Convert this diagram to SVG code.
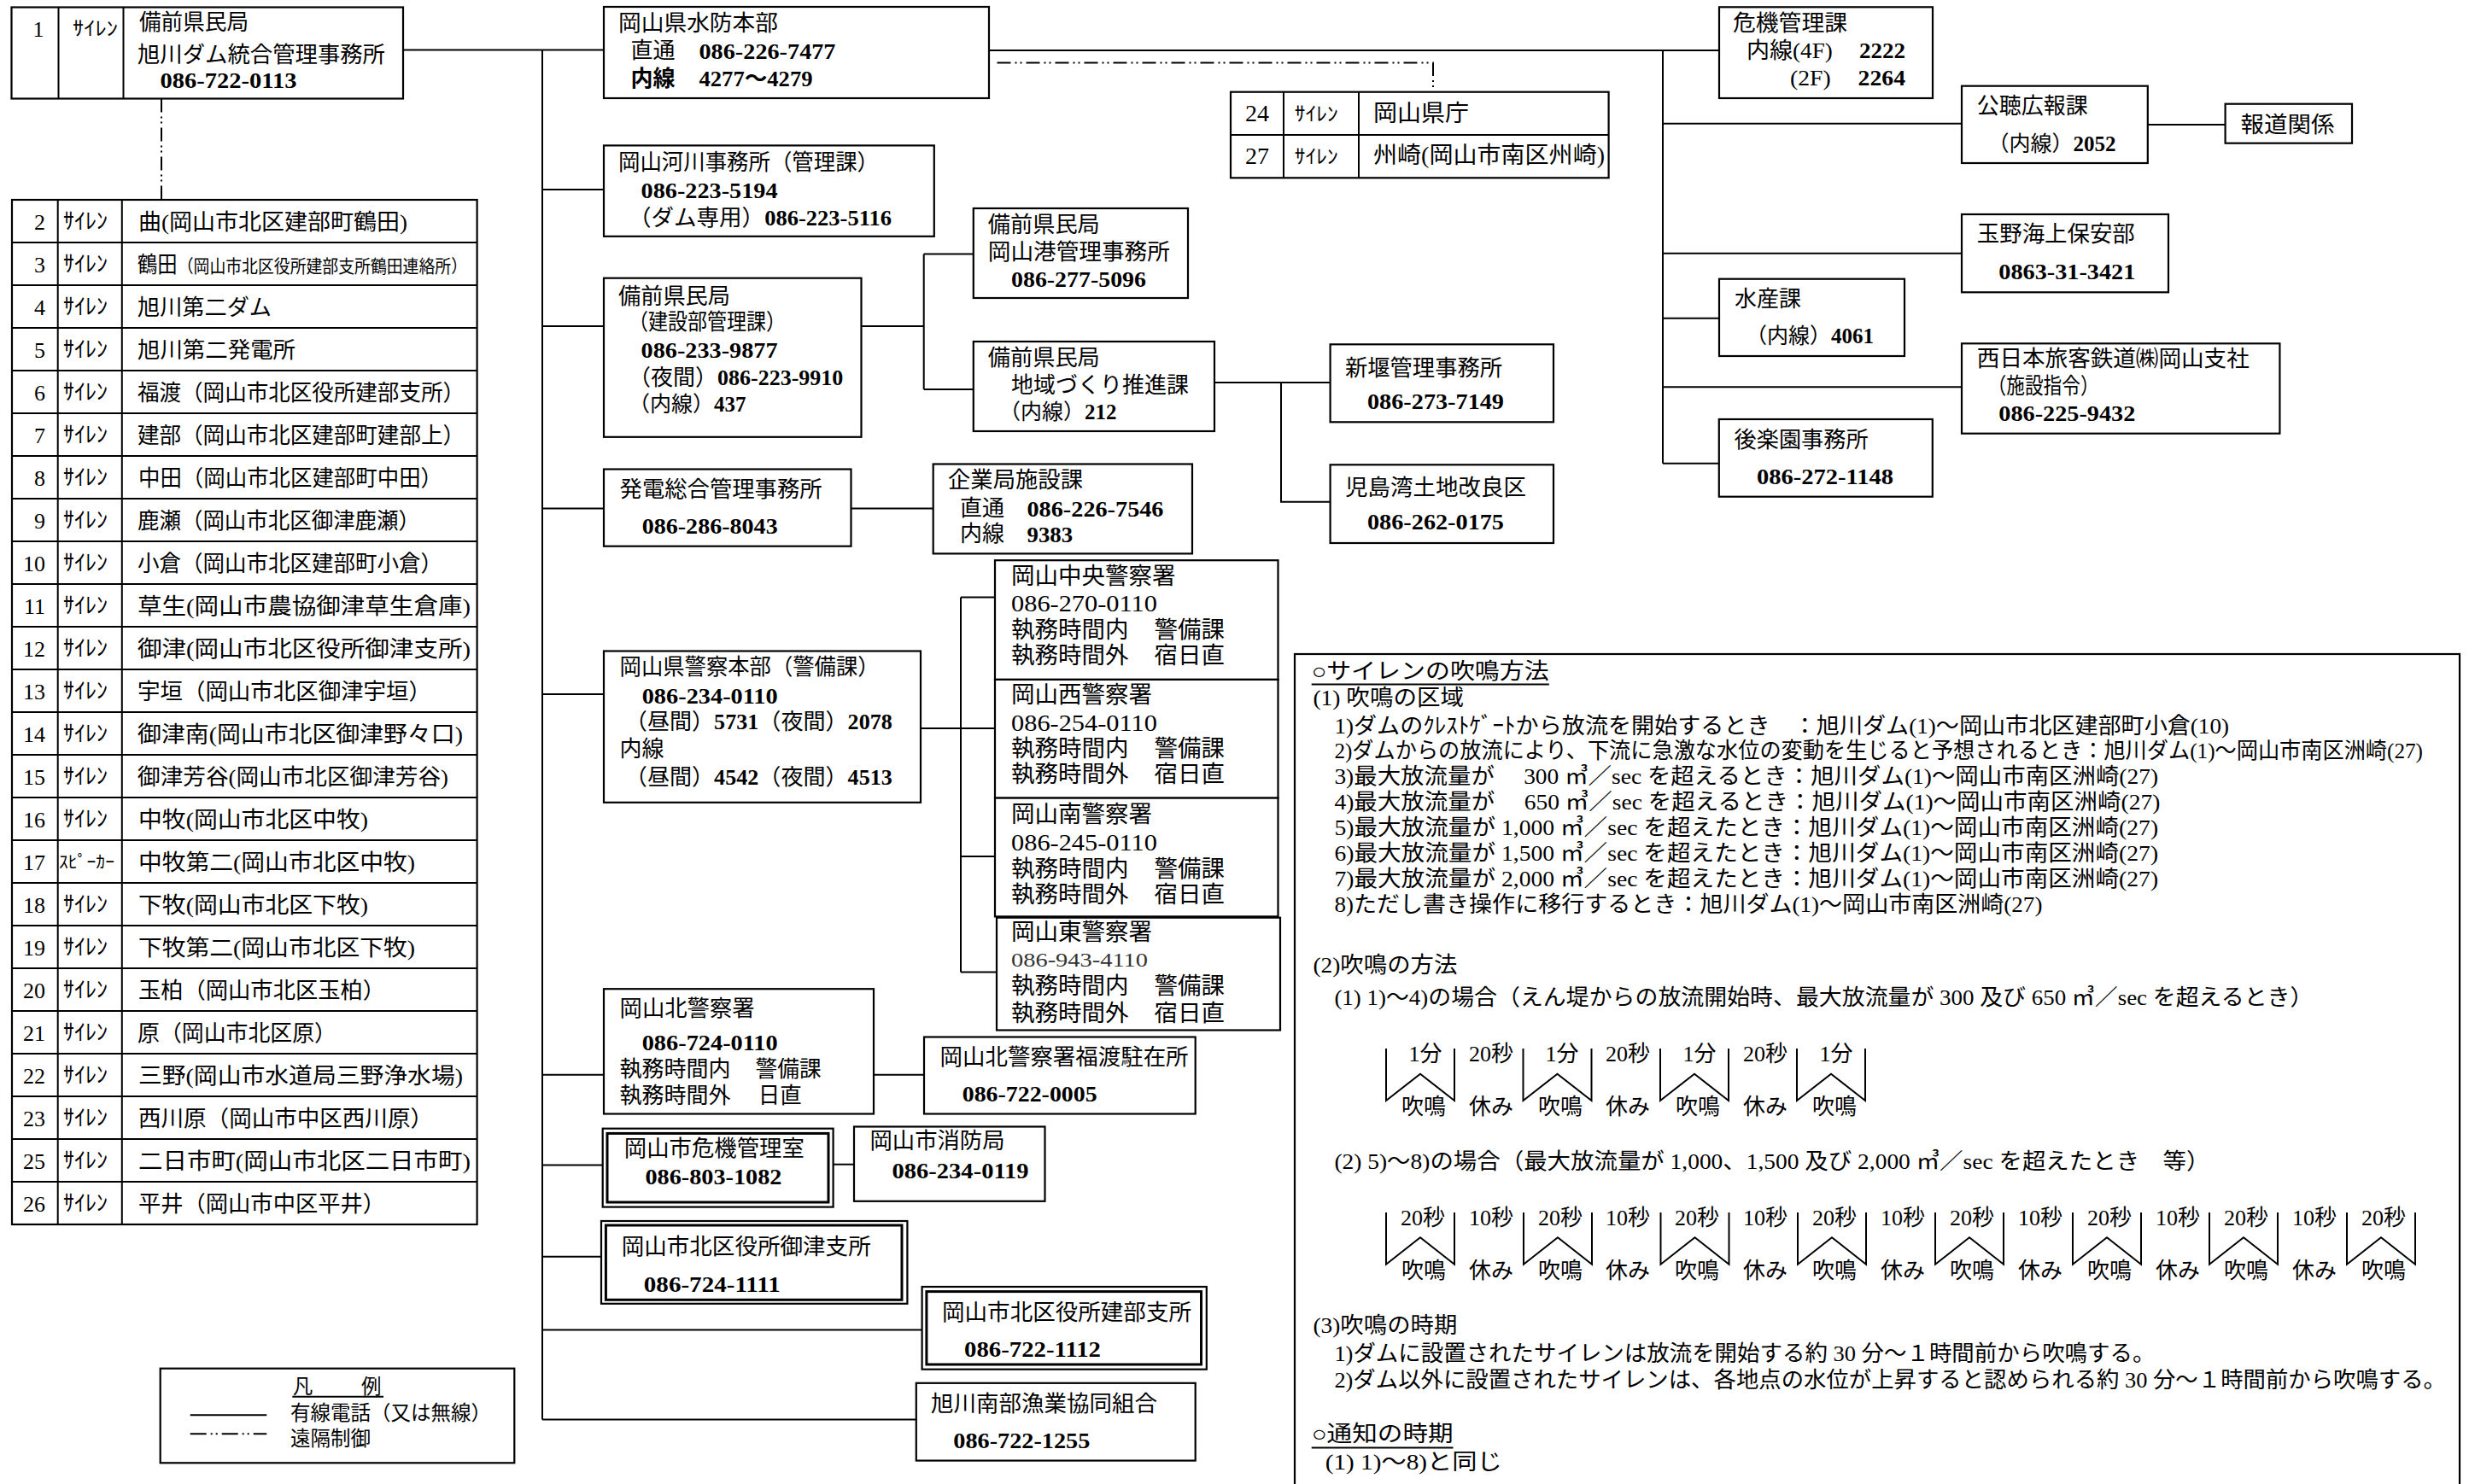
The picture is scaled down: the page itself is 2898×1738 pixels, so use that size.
<svg xmlns="http://www.w3.org/2000/svg" width="2898" height="1738" viewBox="0 0 2898 1738">
<style>
text{font-family:"Liberation Serif","Noto Sans CJK JP",serif;font-size:26px;fill:#000}
.bx{fill:#fff;stroke:#000;stroke-width:2.2}
.ln{stroke:#000;stroke-width:2;fill:none}
.dd{stroke-dasharray:16 5 2 4 2 5}
.p{font-weight:bold}
.k{font-size:23px}
.n{font-size:26px}
.m{font-size:24px}
.pc{font-size:27.5px}
.pn{font-size:28px}
.pl{font-size:24px;fill:#333}
.lg{font-size:23.5px}
</style>
<rect x="0" y="0" width="2898" height="1738" fill="#fff"/>

<g id="connectors">
<path class="ln" d="M472 58.5H707"/>
<path class="ln" d="M635 58.5V1662.6"/>
<path class="ln" d="M635 222H707M635 382H707M635 595.5H707M635 813H707M635 1258.7H707M635 1364.5H705.7M635 1471.7H704M635 1557.6H1079.6M635 1662.6H1072.8"/>
<path class="ln" d="M1008.5 382H1081.7M1081.7 297.5V456M1081.7 297.5H1139.8M1081.7 456H1139.8"/>
<path class="ln" d="M1422 448H1557.6M1500 448V587.7H1557.6"/>
<path class="ln" d="M996.5 595.5H1092.7"/>
<path class="ln" d="M1078 853H1125M1125 699.6V1138.4M1125 699.6H1165M1125 853H1165M1125 1003H1165M1125 1138.4H1167"/>
<path class="ln" d="M1023 1258.7H1082"/>
<path class="ln" d="M975.6 1363.7H1000"/>
<path class="ln" d="M1158 59H2013M1947 59V542.7M1947 144.7H2297M1947 296.7H2297M1947 372.7H2013M1947 453.3H2297M1947 542.7H2013"/>
<path class="ln" d="M2514.8 146H2605.6"/>
<path class="ln dd" d="M189 115.5V234"/>
<path class="ln dd" d="M1167.5 73.5H1678V107.7"/>
</g>

<g id="n1">
<rect class="bx" x="13.5" y="8.5" width="458.5" height="107"/>
<path class="ln" d="M68.5 8.5V115.5M144.5 8.5V115.5"/>
<text x="45" y="43" text-anchor="middle" class="n">1</text>
<text x="85" y="41" class="k" textLength="53" lengthAdjust="spacingAndGlyphs">ｻｲﾚﾝ</text>
<text x="163" y="35" textLength="128" lengthAdjust="spacingAndGlyphs">備前県民局</text>
<text x="161" y="73" textLength="290" lengthAdjust="spacingAndGlyphs">旭川ダム統合管理事務所</text>
<text x="187.5" y="103" class="p" textLength="160" lengthAdjust="spacingAndGlyphs">086-722-0113</text>
</g>

<g id="siren-list">
<rect class="bx" x="14" y="234" width="544.6" height="1200"/>
<path class="ln" d="M67.7 234V1434M142.8 234V1434"/>
<path class="ln" d="M14 284H558.6M14 334H558.6M14 384H558.6M14 434H558.6M14 484H558.6M14 534H558.6M14 584H558.6M14 634H558.6M14 684H558.6M14 734H558.6M14 784H558.6M14 834H558.6M14 884H558.6M14 934H558.6M14 984H558.6M14 1034H558.6M14 1084H558.6M14 1134H558.6M14 1184H558.6M14 1234H558.6M14 1284H558.6M14 1334H558.6M14 1384H558.6"/>
<g text-anchor="end">
<text x="53" y="269">2</text><text x="53" y="319">3</text><text x="53" y="369">4</text><text x="53" y="419">5</text>
<text x="53" y="469">6</text><text x="53" y="519">7</text><text x="53" y="569">8</text><text x="53" y="619">9</text>
<text x="53" y="669">10</text><text x="53" y="719">11</text><text x="53" y="769">12</text><text x="53" y="819">13</text>
<text x="53" y="869">14</text><text x="53" y="919">15</text><text x="53" y="969">16</text><text x="53" y="1019">17</text>
<text x="53" y="1069">18</text><text x="53" y="1119">19</text><text x="53" y="1169">20</text><text x="53" y="1219">21</text>
<text x="53" y="1269">22</text><text x="53" y="1319">23</text><text x="53" y="1369">25</text><text x="53" y="1419">26</text>
</g>
<g class="k">
<text x="74" y="268" textLength="52" lengthAdjust="spacingAndGlyphs">ｻｲﾚﾝ</text>
<text x="74" y="318" textLength="52" lengthAdjust="spacingAndGlyphs">ｻｲﾚﾝ</text>
<text x="74" y="368" textLength="52" lengthAdjust="spacingAndGlyphs">ｻｲﾚﾝ</text>
<text x="74" y="418" textLength="52" lengthAdjust="spacingAndGlyphs">ｻｲﾚﾝ</text>
<text x="74" y="468" textLength="52" lengthAdjust="spacingAndGlyphs">ｻｲﾚﾝ</text>
<text x="74" y="518" textLength="52" lengthAdjust="spacingAndGlyphs">ｻｲﾚﾝ</text>
<text x="74" y="568" textLength="52" lengthAdjust="spacingAndGlyphs">ｻｲﾚﾝ</text>
<text x="74" y="618" textLength="52" lengthAdjust="spacingAndGlyphs">ｻｲﾚﾝ</text>
<text x="74" y="668" textLength="52" lengthAdjust="spacingAndGlyphs">ｻｲﾚﾝ</text>
<text x="74" y="718" textLength="52" lengthAdjust="spacingAndGlyphs">ｻｲﾚﾝ</text>
<text x="74" y="768" textLength="52" lengthAdjust="spacingAndGlyphs">ｻｲﾚﾝ</text>
<text x="74" y="818" textLength="52" lengthAdjust="spacingAndGlyphs">ｻｲﾚﾝ</text>
<text x="74" y="868" textLength="52" lengthAdjust="spacingAndGlyphs">ｻｲﾚﾝ</text>
<text x="74" y="918" textLength="52" lengthAdjust="spacingAndGlyphs">ｻｲﾚﾝ</text>
<text x="74" y="968" textLength="52" lengthAdjust="spacingAndGlyphs">ｻｲﾚﾝ</text>
<text x="69" y="1017" textLength="65" lengthAdjust="spacingAndGlyphs" style="font-size:20px">ｽﾋﾟｰｶｰ</text>
<text x="74" y="1068" textLength="52" lengthAdjust="spacingAndGlyphs">ｻｲﾚﾝ</text>
<text x="74" y="1118" textLength="52" lengthAdjust="spacingAndGlyphs">ｻｲﾚﾝ</text>
<text x="74" y="1168" textLength="52" lengthAdjust="spacingAndGlyphs">ｻｲﾚﾝ</text>
<text x="74" y="1218" textLength="52" lengthAdjust="spacingAndGlyphs">ｻｲﾚﾝ</text>
<text x="74" y="1268" textLength="52" lengthAdjust="spacingAndGlyphs">ｻｲﾚﾝ</text>
<text x="74" y="1318" textLength="52" lengthAdjust="spacingAndGlyphs">ｻｲﾚﾝ</text>
<text x="74" y="1368" textLength="52" lengthAdjust="spacingAndGlyphs">ｻｲﾚﾝ</text>
<text x="74" y="1418" textLength="52" lengthAdjust="spacingAndGlyphs">ｻｲﾚﾝ</text>
</g>
<text x="162" y="269" textLength="315" lengthAdjust="spacingAndGlyphs">曲(岡山市北区建部町鶴田)</text>
<text x="161" y="319" textLength="386" lengthAdjust="spacingAndGlyphs">鶴田<tspan style="font-size:21px">（岡山市北区役所建部支所鶴田連絡所）</tspan></text>
<text x="161" y="369" textLength="157" lengthAdjust="spacingAndGlyphs">旭川第二ダム</text>
<text x="161" y="419" textLength="185" lengthAdjust="spacingAndGlyphs">旭川第二発電所</text>
<text x="161" y="469" textLength="383" lengthAdjust="spacingAndGlyphs">福渡（岡山市北区役所建部支所）</text>
<text x="161" y="519" textLength="383" lengthAdjust="spacingAndGlyphs">建部（岡山市北区建部町建部上）</text>
<text x="162" y="569" textLength="356" lengthAdjust="spacingAndGlyphs">中田（岡山市北区建部町中田）</text>
<text x="161" y="619" textLength="331" lengthAdjust="spacingAndGlyphs">鹿瀬（岡山市北区御津鹿瀬）</text>
<text x="161" y="669" textLength="357" lengthAdjust="spacingAndGlyphs">小倉（岡山市北区建部町小倉）</text>
<text x="161" y="719" textLength="390" lengthAdjust="spacingAndGlyphs">草生(岡山市農協御津草生倉庫)</text>
<text x="161" y="769" textLength="390" lengthAdjust="spacingAndGlyphs">御津(岡山市北区役所御津支所)</text>
<text x="161" y="819" textLength="344" lengthAdjust="spacingAndGlyphs">宇垣（岡山市北区御津宇垣）</text>
<text x="161" y="869" textLength="381" lengthAdjust="spacingAndGlyphs">御津南(岡山市北区御津野々口)</text>
<text x="161" y="919" textLength="364" lengthAdjust="spacingAndGlyphs">御津芳谷(岡山市北区御津芳谷)</text>
<text x="162" y="969" textLength="269" lengthAdjust="spacingAndGlyphs">中牧(岡山市北区中牧)</text>
<text x="162" y="1019" textLength="324" lengthAdjust="spacingAndGlyphs">中牧第二(岡山市北区中牧)</text>
<text x="162" y="1069" textLength="269" lengthAdjust="spacingAndGlyphs">下牧(岡山市北区下牧)</text>
<text x="162" y="1119" textLength="324" lengthAdjust="spacingAndGlyphs">下牧第二(岡山市北区下牧)</text>
<text x="162" y="1169" textLength="289" lengthAdjust="spacingAndGlyphs">玉柏（岡山市北区玉柏）</text>
<text x="161" y="1219" textLength="233" lengthAdjust="spacingAndGlyphs">原（岡山市北区原）</text>
<text x="162" y="1269" textLength="380" lengthAdjust="spacingAndGlyphs">三野(岡山市水道局三野浄水場)</text>
<text x="162" y="1319" textLength="345" lengthAdjust="spacingAndGlyphs">西川原（岡山市中区西川原）</text>
<text x="162" y="1369" textLength="389" lengthAdjust="spacingAndGlyphs">二日市町(岡山市北区二日市町)</text>
<text x="162" y="1419" textLength="289" lengthAdjust="spacingAndGlyphs">平井（岡山市中区平井）</text>
</g>

<g id="n-suibo">
<rect class="bx" x="707" y="8" width="451" height="107"/>
<text x="724" y="36" textLength="187" lengthAdjust="spacingAndGlyphs">岡山県水防本部</text>
<text x="738.5" y="68">直通</text>
<text x="818.5" y="69" class="p" textLength="160" lengthAdjust="spacingAndGlyphs">086-226-7477</text>
<text x="738.5" y="101" class="p">内線</text>
<text x="818.5" y="101" class="p" textLength="133" lengthAdjust="spacingAndGlyphs">4277～4279</text>
</g>

<g id="n-kasen">
<rect class="bx" x="707" y="170.4" width="386.8" height="106.4"/>
<text x="724" y="199" textLength="305" lengthAdjust="spacingAndGlyphs">岡山河川事務所（管理課）</text>
<text x="750.6" y="232" class="p" textLength="160" lengthAdjust="spacingAndGlyphs">086-223-5194</text>
<text x="736" y="264" textLength="308" lengthAdjust="spacingAndGlyphs">（ダム専用）<tspan class="p">086-223-5116</tspan></text>
</g>

<g id="n-kensetsu">
<rect class="bx" x="707" y="325.7" width="301.5" height="186.1"/>
<text x="724" y="356" textLength="131" lengthAdjust="spacingAndGlyphs">備前県民局</text>
<text x="736" y="386" textLength="184" lengthAdjust="spacingAndGlyphs">（建設部管理課）</text>
<text x="750.6" y="419" class="p" textLength="160" lengthAdjust="spacingAndGlyphs">086-233-9877</text>
<text><tspan x="736" y="451">（夜間）<tspan class="p">086-223-9910</tspan></tspan><tspan x="736" y="482" style="font-size:25px">（内線）<tspan class="p">437</tspan></tspan></text>
</g>

<g id="n-kou">
<rect class="bx" x="1139.8" y="244" width="251.2" height="105"/>
<text x="1156.8" y="272" textLength="131" lengthAdjust="spacingAndGlyphs">備前県民局</text>
<text x="1156.8" y="304" textLength="213" lengthAdjust="spacingAndGlyphs">岡山港管理事務所</text>
<text x="1184" y="336" class="p" textLength="158" lengthAdjust="spacingAndGlyphs">086-277-5096</text>
</g>

<g id="n-chiiki">
<rect class="bx" x="1139.8" y="400" width="282.2" height="105"/>
<text x="1156.8" y="428" textLength="131" lengthAdjust="spacingAndGlyphs">備前県民局</text>
<text><tspan x="1184" y="460">地域づくり推進課</tspan><tspan x="1170" y="491" style="font-size:25px">（内線）<tspan class="p">212</tspan></tspan></text>
</g>

<g id="n-shinseki">
<rect class="bx" x="1557.6" y="403.3" width="261.4" height="91"/>
<text x="1575" y="440" textLength="184" lengthAdjust="spacingAndGlyphs">新堰管理事務所</text>
<text x="1601" y="479" class="p" textLength="160" lengthAdjust="spacingAndGlyphs">086-273-7149</text>
</g>

<g id="n-kojima">
<rect class="bx" x="1557.6" y="544.3" width="261.4" height="91.7"/>
<text x="1575" y="580" textLength="212" lengthAdjust="spacingAndGlyphs">児島湾土地改良区</text>
<text x="1601" y="620" class="p" textLength="160" lengthAdjust="spacingAndGlyphs">086-262-0175</text>
</g>

<g id="n-hatsuden">
<rect class="bx" x="707" y="549.5" width="289.5" height="90.2"/>
<text x="725.6" y="582" textLength="237" lengthAdjust="spacingAndGlyphs">発電総合管理事務所</text>
<text x="751.7" y="624.6" class="p" textLength="159" lengthAdjust="spacingAndGlyphs">086-286-8043</text>
</g>

<g id="n-kigyo">
<rect class="bx" x="1092.7" y="543.5" width="303.3" height="104.9"/>
<text x="1110" y="571" textLength="158" lengthAdjust="spacingAndGlyphs">企業局施設課</text>
<text x="1124" y="604">直通</text>
<text x="1202.5" y="605" class="p" textLength="160" lengthAdjust="spacingAndGlyphs">086-226-7546</text>
<text x="1124" y="634">内線</text>
<text x="1202.5" y="634.5" class="p" textLength="53.5" lengthAdjust="spacingAndGlyphs">9383</text>
</g>

<g id="n-keisatsu">
<rect class="bx" x="707" y="762.5" width="371" height="177.3"/>
<text x="725.6" y="790" textLength="304" lengthAdjust="spacingAndGlyphs">岡山県警察本部（警備課）</text>
<text x="751.7" y="824" class="p" textLength="159" lengthAdjust="spacingAndGlyphs">086-234-0110</text>
<text x="731.8" y="854" textLength="313" lengthAdjust="spacingAndGlyphs">（昼間）<tspan class="p">5731</tspan>（夜間）<tspan class="p">2078</tspan></text>
<text x="725.6" y="886">内線</text>
<text x="731.8" y="919" textLength="313" lengthAdjust="spacingAndGlyphs">（昼間）<tspan class="p">4542</tspan>（夜間）<tspan class="p">4513</tspan></text>
</g>

<g id="n-chuo">
<rect class="bx" x="1165" y="656.2" width="331.5" height="139.7"/>
<text x="1184" y="684" class="pc">岡山中央警察署</text>
<text x="1184" y="715.6" class="pn" textLength="171" lengthAdjust="spacingAndGlyphs">086-270-0110</text>
<text x="1184" y="747" class="pc">執務時間内</text><text x="1351.6" y="747" class="pc">警備課</text>
<text x="1184" y="777" class="pc">執務時間外</text><text x="1351.6" y="777" class="pc">宿日直</text>
</g>
<g id="n-nishi">
<rect class="bx" x="1165" y="795.9" width="331.5" height="138.7"/>
<text x="1184" y="823" class="pc">岡山西警察署</text>
<text x="1184" y="855.7" class="pn" textLength="171" lengthAdjust="spacingAndGlyphs">086-254-0110</text>
<text x="1184" y="886" class="pc">執務時間内</text><text x="1351.6" y="886" class="pc">警備課</text>
<text x="1184" y="916" class="pc">執務時間外</text><text x="1351.6" y="916" class="pc">宿日直</text>
</g>
<g id="n-minami">
<rect class="bx" x="1165" y="934.6" width="331.5" height="138.8"/>
<text x="1184" y="963" class="pc">岡山南警察署</text>
<text x="1184" y="996" class="pn" textLength="171" lengthAdjust="spacingAndGlyphs">086-245-0110</text>
<text x="1184" y="1027" class="pc">執務時間内</text><text x="1351.6" y="1027" class="pc">警備課</text>
<text x="1184" y="1057" class="pc">執務時間外</text><text x="1351.6" y="1057" class="pc">宿日直</text>
</g>
<g id="n-higashi">
<rect class="bx" x="1167" y="1074.7" width="332" height="131.8"/>
<text x="1184" y="1100.6" class="pc">岡山東警察署</text>
<text x="1184" y="1132" class="pl" textLength="160" lengthAdjust="spacingAndGlyphs">086-943-4110</text>
<text x="1184" y="1163.5" class="pc">執務時間内</text><text x="1351.6" y="1163.5" class="pc">警備課</text>
<text x="1184" y="1196" class="pc">執務時間外</text><text x="1351.6" y="1196" class="pc">宿日直</text>
</g>

<g id="n-kita">
<rect class="bx" x="707" y="1158.2" width="316" height="146.3"/>
<text x="725.6" y="1190" textLength="158" lengthAdjust="spacingAndGlyphs">岡山北警察署</text>
<text x="751.7" y="1229.5" class="p" textLength="159" lengthAdjust="spacingAndGlyphs">086-724-0110</text>
<text x="725.6" y="1261" textLength="130" lengthAdjust="spacingAndGlyphs">執務時間内</text><text x="884.6" y="1261" textLength="77" lengthAdjust="spacingAndGlyphs">警備課</text>
<text x="725.6" y="1292" textLength="130" lengthAdjust="spacingAndGlyphs">執務時間外</text><text x="887.7" y="1292" textLength="51" lengthAdjust="spacingAndGlyphs">日直</text>
</g>

<g id="n-fukuwatari">
<rect class="bx" x="1082" y="1214.5" width="317.7" height="90"/>
<text x="1100.6" y="1247" textLength="291" lengthAdjust="spacingAndGlyphs">岡山北警察署福渡駐在所</text>
<text x="1126.7" y="1289.5" class="p" textLength="158" lengthAdjust="spacingAndGlyphs">086-722-0005</text>
</g>

<g id="n-kikishi">
<rect class="bx" x="705.7" y="1321.7" width="269.9" height="91.9"/>
<rect x="711" y="1327.4" width="259" height="80.6" fill="none" stroke="#000" stroke-width="3"/>
<text x="730.8" y="1354" textLength="211" lengthAdjust="spacingAndGlyphs">岡山市危機管理室</text>
<text x="755.4" y="1387" class="p" textLength="160" lengthAdjust="spacingAndGlyphs">086-803-1082</text>
</g>

<g id="n-shobo">
<rect class="bx" x="1000" y="1319.5" width="223.5" height="87.3"/>
<text x="1018.5" y="1345" textLength="158" lengthAdjust="spacingAndGlyphs">岡山市消防局</text>
<text x="1044.6" y="1379.5" class="p" textLength="160" lengthAdjust="spacingAndGlyphs">086-234-0119</text>
</g>

<g id="n-mitsu">
<rect class="bx" x="704" y="1430" width="358.4" height="96.8"/>
<rect x="709.4" y="1435" width="346.6" height="87.3" fill="none" stroke="#000" stroke-width="3"/>
<text x="727.7" y="1469" textLength="292" lengthAdjust="spacingAndGlyphs">岡山市北区役所御津支所</text>
<text x="753.8" y="1513" class="p" textLength="160" lengthAdjust="spacingAndGlyphs">086-724-1111</text>
</g>

<g id="n-takebe">
<rect class="bx" x="1079.6" y="1507" width="333.2" height="96.7"/>
<rect x="1084.9" y="1512.6" width="321.6" height="85.4" fill="none" stroke="#000" stroke-width="3"/>
<text x="1103" y="1546" textLength="292" lengthAdjust="spacingAndGlyphs">岡山市北区役所建部支所</text>
<text x="1129" y="1588.7" class="p" textLength="160" lengthAdjust="spacingAndGlyphs">086-722-1112</text>
</g>

<g id="n-gyokyo">
<rect class="bx" x="1072.8" y="1619.8" width="326.9" height="90.8"/>
<text x="1090" y="1653" textLength="265" lengthAdjust="spacingAndGlyphs">旭川南部漁業協同組合</text>
<text x="1116.3" y="1695.6" class="p" textLength="160" lengthAdjust="spacingAndGlyphs">086-722-1255</text>
</g>

<g id="n-kencho">
<rect class="bx" x="1441" y="107.7" width="442.6" height="100.6"/>
<path class="ln" d="M1503 107.7V208.3M1591 107.7V208.3M1441 158H1883.6"/>
<text x="1472" y="142" text-anchor="middle" style="font-size:28px">24</text>
<text x="1515.7" y="141" class="k" textLength="51" lengthAdjust="spacingAndGlyphs">ｻｲﾚﾝ</text>
<text x="1608" y="142" style="font-size:27px" textLength="112" lengthAdjust="spacingAndGlyphs">岡山県庁</text>
<text x="1472" y="192" text-anchor="middle" style="font-size:28px">27</text>
<text x="1515.7" y="191" class="k" textLength="51" lengthAdjust="spacingAndGlyphs">ｻｲﾚﾝ</text>
<text x="1608" y="191" style="font-size:27px" textLength="271" lengthAdjust="spacingAndGlyphs">州崎(岡山市南区州崎)</text>
</g>

<g id="n-kikikanri">
<rect class="bx" x="2013" y="8.3" width="250" height="106.7"/>
<text x="2029" y="36" textLength="134" lengthAdjust="spacingAndGlyphs">危機管理課</text>
<text x="2045" y="68" textLength="186" lengthAdjust="spacingAndGlyphs">内線(4F)<tspan class="p" dx="30">2222</tspan></text>
<text x="2096" y="100" textLength="135" lengthAdjust="spacingAndGlyphs">(2F)<tspan class="p" dx="30">2264</tspan></text>
</g>

<g id="n-kouchou">
<rect class="bx" x="2297" y="100.7" width="217.8" height="90.3"/>
<text><tspan x="2314.8" y="133">公聴広報課</tspan><tspan x="2327.6" y="176.5" style="font-size:25px">（内線）<tspan class="p">2052</tspan></tspan></text>
</g>

<g id="n-houdou">
<rect class="bx" x="2605.6" y="121.7" width="148.4" height="46"/>
<text x="2623.5" y="155" textLength="110" lengthAdjust="spacingAndGlyphs">報道関係</text>
</g>

<g id="n-tamano">
<rect class="bx" x="2297" y="251" width="242" height="91.3"/>
<text x="2314.8" y="283" textLength="185" lengthAdjust="spacingAndGlyphs">玉野海上保安部</text>
<text x="2340.3" y="326.7" class="p" textLength="160" lengthAdjust="spacingAndGlyphs">0863-31-3421</text>
</g>

<g id="n-suisan">
<rect class="bx" x="2013" y="326.7" width="217" height="90.3"/>
<text><tspan x="2031" y="359">水産課</tspan><tspan x="2044" y="401.5" style="font-size:25px">（内線）<tspan class="p">4061</tspan></tspan></text>
</g>

<g id="n-jr">
<rect class="bx" x="2297" y="402.3" width="372.4" height="105.4"/>
<text x="2314.8" y="429" textLength="319" lengthAdjust="spacingAndGlyphs">西日本旅客鉄道㈱岡山支社</text>
<text x="2327.6" y="461" textLength="130" lengthAdjust="spacingAndGlyphs">（施設指令）</text>
<text x="2340.3" y="493.3" class="p" textLength="160" lengthAdjust="spacingAndGlyphs">086-225-9432</text>
</g>

<g id="n-kourakuen">
<rect class="bx" x="2012.8" y="491" width="250" height="90.7"/>
<text x="2030.6" y="524" textLength="157" lengthAdjust="spacingAndGlyphs">後楽園事務所</text>
<text x="2057" y="566.7" class="p" textLength="160" lengthAdjust="spacingAndGlyphs">086-272-1148</text>
</g>

<g id="notes">
<rect x="1516" y="766" width="1364" height="990" fill="#fff" stroke="#000" stroke-width="2.2"/>
<g class="m">
<text x="1535.7" y="795" style="font-size:26px" textLength="278" lengthAdjust="spacingAndGlyphs">○サイレンの吹鳴方法</text>
<path class="ln" d="M1535.7 801.5H1813.8" stroke-width="2.5"/>
<text x="1537.4" y="826" textLength="176.6" lengthAdjust="spacingAndGlyphs">(1) 吹鳴の区域</text>
<text x="1562.4" y="859" textLength="1047.6" lengthAdjust="spacingAndGlyphs">1)ダムのｸﾚｽﾄｹﾞｰﾄから放流を開始するとき　：旭川ダム(1)～岡山市北区建部町小倉(10)</text>
<text x="1562.4" y="888" textLength="1274.6" lengthAdjust="spacingAndGlyphs">2)ダムからの放流により、下流に急激な水位の変動を生じると予想されるとき：旭川ダム(1)～岡山市南区洲崎(27)</text>
<text x="1562.4" y="918" textLength="964.7" lengthAdjust="spacingAndGlyphs">3)最大放流量が　 300 ㎥／sec を超えるとき：旭川ダム(1)～岡山市南区洲崎(27)</text>
<text x="1562.4" y="948" textLength="967" lengthAdjust="spacingAndGlyphs">4)最大放流量が　 650 ㎥／sec を超えるとき：旭川ダム(1)～岡山市南区洲崎(27)</text>
<text x="1562.4" y="978" textLength="964.7" lengthAdjust="spacingAndGlyphs">5)最大放流量が 1,000 ㎥／sec を超えたとき：旭川ダム(1)～岡山市南区洲崎(27)</text>
<text x="1562.4" y="1008" textLength="964.7" lengthAdjust="spacingAndGlyphs">6)最大放流量が 1,500 ㎥／sec を超えたとき：旭川ダム(1)～岡山市南区洲崎(27)</text>
<text x="1562.4" y="1038" textLength="964.7" lengthAdjust="spacingAndGlyphs">7)最大放流量が 2,000 ㎥／sec を超えたとき：旭川ダム(1)～岡山市南区洲崎(27)</text>
<text x="1562.4" y="1068" textLength="829" lengthAdjust="spacingAndGlyphs">8)ただし書き操作に移行するとき：旭川ダム(1)～岡山市南区洲崎(27)</text>
<text x="1537.4" y="1139" textLength="169" lengthAdjust="spacingAndGlyphs">(2)吹鳴の方法</text>
<text x="1562.4" y="1177" textLength="1146" lengthAdjust="spacingAndGlyphs">(1) 1)～4)の場合（えん堤からの放流開始時、最大放流量が 300 及び 650 ㎥／sec を超えるとき）</text>
<text x="1562.4" y="1369" textLength="1025" lengthAdjust="spacingAndGlyphs">(2) 5)～8)の場合（最大放流量が 1,000、1,500 及び 2,000 ㎥／sec を超えたとき　等）</text>
<text x="1537.4" y="1561" textLength="169" lengthAdjust="spacingAndGlyphs">(3)吹鳴の時期</text>
<text x="1562.4" y="1594" textLength="961" lengthAdjust="spacingAndGlyphs">1)ダムに設置されたサイレンは放流を開始する約 30 分～１時間前から吹鳴する。</text>
<text x="1562.4" y="1625" textLength="1301.6" lengthAdjust="spacingAndGlyphs">2)ダム以外に設置されたサイレンは、各地点の水位が上昇すると認められる約 30 分～１時間前から吹鳴する。</text>
<text x="1535.7" y="1688" style="font-size:26px" textLength="166" lengthAdjust="spacingAndGlyphs">○通知の時期</text>
<path class="ln" d="M1535.7 1695.5H1701.5" stroke-width="2.5"/>
<text x="1551.7" y="1721" textLength="207" lengthAdjust="spacingAndGlyphs">(1) 1)～8)と同じ</text>
</g>
<g class="ln" stroke-width="1.8">
<path d="M1623 1228V1289L1663 1257.7L1703 1289V1228"/>
<path d="M1783.5 1228V1289L1823.5 1257.7L1863.5 1289V1228"/>
<path d="M1944 1228V1289L1984 1257.7L2024 1289V1228"/>
<path d="M2104 1228V1289L2144 1257.7L2184 1289V1228"/>
<path d="M1623 1420V1480.7L1663 1449.3L1703 1480.7V1420"/>
<path d="M1784 1420V1480.7L1824 1449.3L1864 1480.7V1420"/>
<path d="M1944.5 1420V1480.7L1984.5 1449.3L2024.5 1480.7V1420"/>
<path d="M2105 1420V1480.7L2145 1449.3L2185 1480.7V1420"/>
<path d="M2266 1420V1480.7L2306 1449.3L2346 1480.7V1420"/>
<path d="M2427 1420V1480.7L2467 1449.3L2507 1480.7V1420"/>
<path d="M2587 1420V1480.7L2627 1449.3L2667 1480.7V1420"/>
<path d="M2748 1420V1480.7L2788 1449.3L2828 1480.7V1420"/>
</g>
<g class="m" text-anchor="middle">
<text x="1669" y="1243">1分</text><text x="1746" y="1243">20秒</text>
<text x="1829" y="1243">1分</text><text x="1906" y="1243">20秒</text>
<text x="1990" y="1243">1分</text><text x="2067" y="1243">20秒</text>
<text x="2150" y="1243">1分</text>
<text x="1667" y="1305">吹鳴</text><text x="1746" y="1305">休み</text>
<text x="1827" y="1305">吹鳴</text><text x="1906" y="1305">休み</text>
<text x="1988" y="1305">吹鳴</text><text x="2067" y="1305">休み</text>
<text x="2148" y="1305">吹鳴</text>
<text x="1666" y="1435">20秒</text><text x="1746" y="1435">10秒</text>
<text x="1827" y="1435">20秒</text><text x="1906" y="1435">10秒</text>
<text x="1987" y="1435">20秒</text><text x="2067" y="1435">10秒</text>
<text x="2148" y="1435">20秒</text><text x="2228" y="1435">10秒</text>
<text x="2309" y="1435">20秒</text><text x="2389" y="1435">10秒</text>
<text x="2470" y="1435">20秒</text><text x="2550" y="1435">10秒</text>
<text x="2630" y="1435">20秒</text><text x="2710" y="1435">10秒</text>
<text x="2791" y="1435">20秒</text>
<text x="1667" y="1497">吹鳴</text><text x="1746" y="1497">休み</text>
<text x="1827" y="1497">吹鳴</text><text x="1906" y="1497">休み</text>
<text x="1987" y="1497">吹鳴</text><text x="2067" y="1497">休み</text>
<text x="2148" y="1497">吹鳴</text><text x="2228" y="1497">休み</text>
<text x="2309" y="1497">吹鳴</text><text x="2389" y="1497">休み</text>
<text x="2470" y="1497">吹鳴</text><text x="2550" y="1497">休み</text>
<text x="2630" y="1497">吹鳴</text><text x="2710" y="1497">休み</text>
<text x="2791" y="1497">吹鳴</text>
</g>
</g>

<g id="legend">
<rect class="bx" x="187.7" y="1602.7" width="414.6" height="110.6"/>
<text x="342.7" y="1632" class="lg">凡</text>
<text x="423" y="1632" class="lg">例</text>
<path class="ln" d="M342.3 1635.7H449" stroke-width="2.5"/>
<path class="ln" d="M222.7 1657.3H312.3"/>
<path class="ln" d="M222.7 1679.3H312.3" stroke-dasharray="19 5 2 4 2 5"/>
<text x="340" y="1663" class="lg" textLength="235" lengthAdjust="spacingAndGlyphs">有線電話（又は無線）</text>
<text x="340" y="1693" class="lg">遠隔制御</text>
</g>
</svg>
